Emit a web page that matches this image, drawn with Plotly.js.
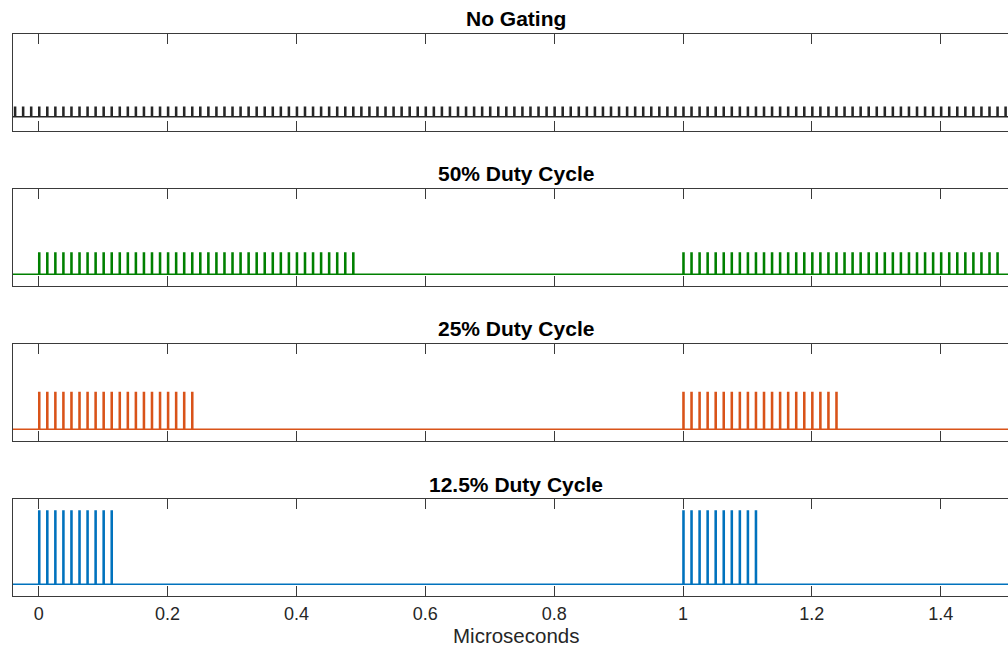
<!DOCTYPE html>
<html><head><meta charset="utf-8">
<script src="https://cdn.plot.ly/plotly-3.0.1.min.js"></script>
<style>html,body{margin:0;padding:0;overflow:hidden;background:#fff}#chart{width:1031px;height:646px}</style>
</head><body><div id="chart"></div>
<script>
// ---- data (times in nanoseconds, converted to microseconds for plotting) ----
const panelTitles = ["No Gating", "50% Duty Cycle", "25% Duty Cycle", "12.5% Duty Cycle"];
const panelColors = ["#262626", "#008000", "#D95319", "#0072BD"];
const pulseHeights = [0.13, 0.29, 0.5, 1.0];
const pulseWidthNs = 1.5;
const gateStartsNs = [0, 1000];
const pulsesPerBurst = [40, 20, 10];   // 50%, 25%, 12.5%
const burstOffsetsNs = [0,12.5,25,37.5,50,62.5,75,87.5,100,112.5,125,137.5,150,162.5,175,187.5,200,212.5,225,237.5,250,262.5,275,287.5,300,312.5,325,337.5,350,362.5,375,387.5,400,412.5,425,437.5,450,462.5,475,487.5];
const noGatingOnsetsNs = [-37.5,-25,-12.5,0,12.5,25,37.5,50,62.5,75,87.5,100,112.5,125,137.5,150,162.5,175,187.5,200,212.5,225,237.5,250,262.5,275,287.5,300,312.5,325,337.5,350,362.5,375,387.5,400,412.5,425,437.5,450,462.5,475,487.5,500,512.5,525,537.5,550,562.5,575,587.5,600,612.5,625,637.5,650,662.5,675,687.5,700,712.5,725,737.5,750,762.5,775,787.5,800,812.5,825,837.5,850,862.5,875,887.5,900,912.5,925,937.5,950,962.5,975,987.5,1000,1012.5,1025,1037.5,1050,1062.5,1075,1087.5,1100,1112.5,1125,1137.5,1150,1162.5,1175,1187.5,1200,1212.5,1225,1237.5,1250,1262.5,1275,1287.5,1300,1312.5,1325,1337.5,1350,1362.5,1375,1387.5,1400,1412.5,1425,1437.5,1450,1462.5,1475,1487.5,1500,1512.5];
const tickValues = [0, 0.2, 0.4, 0.6, 0.8, 1, 1.2, 1.4];
const tickLabels = ["0", "0.2", "0.4", "0.6", "0.8", "1", "1.2", "1.4"];
const xRange = [-0.04, 1.52];
const xAxisTitle = "Microseconds";

// ---- build pulse waveforms from the onset lists ----
function waveform(onsetsNs, h) {
  const x = [-0.06], y = [0];
  const w = pulseWidthNs / 1000;
  onsetsNs.forEach(tn => {
    const t = tn / 1000;
    x.push(t, t, t + w, t + w); y.push(0, h, h, 0);
  });
  x.push(1.6); y.push(0);
  return {x, y};
}
const onsetLists = [noGatingOnsetsNs];
pulsesPerBurst.forEach(n => {
  const list = [];
  gateStartsNs.forEach(g => burstOffsetsNs.slice(0, n).forEach(o => list.push(g + o)));
  onsetLists.push(list);
});

const domains = [[0.7972, 0.9469], [0.5573, 0.7070], [0.3173, 0.4670], [0.0774, 0.2271]];
const yRanges = [[-0.196, 1.129], [-0.16, 1.16], [-0.16, 1.16], [-0.16, 1.16]];
const titleY = [0.9720, 0.7321, 0.4921, 0.2506];

const axColor = "#3a3a3a";
const font = "Liberation Sans, Arial, Helvetica, sans-serif";
const traces = [];
const layout = {
  width: 1031, height: 646,
  margin: {l: 13, r: 13, t: 0, b: 0},
  paper_bgcolor: "#fff", plot_bgcolor: "#fff",
  showlegend: false,
  font: {family: font, color: "#262626"},
  annotations: []
};
for (let i = 0; i < 4; i++) {
  const wf = waveform(onsetLists[i], pulseHeights[i]);
  const sfx = i === 0 ? "" : String(i + 1);
  traces.push({
    type: "scatter", mode: "lines", x: wf.x, y: wf.y,
    xaxis: "x" + sfx, yaxis: "y" + sfx,
    line: {color: panelColors[i], width: 1.6, shape: "linear"},
    hoverinfo: "skip"
  });
  const last = i === 3;
  layout["xaxis" + sfx] = {
    domain: [0, 1], anchor: "y" + sfx, range: xRange,
    showgrid: false, zeroline: false, showline: true, mirror: "ticks",
    linecolor: axColor, linewidth: 1,
    ticks: "inside", ticklen: 10, tickwidth: 1, tickcolor: axColor,
    tickvals: tickValues, ticktext: tickLabels,
    showticklabels: last,
    tickfont: {family: font, size: 18, color: "#262626"},
    ticklabelstandoff: 1,
    automargin: false,
    title: {text: ""}
  };
  layout["yaxis" + sfx] = {
    domain: domains[i], anchor: "x" + sfx, range: yRanges[i],
    showgrid: false, zeroline: false, showline: true, mirror: true,
    linecolor: axColor, linewidth: 1,
    ticks: "", showticklabels: false, automargin: false
  };
  layout.annotations.push({
    text: "<b>" + panelTitles[i] + "</b>", xref: "paper", yref: "paper",
    x: 0.5, y: titleY[i], xanchor: "center", yanchor: "middle",
    showarrow: false, font: {family: font, size: 21, color: "#000"}
  });
}
// x-axis title of the bottom panel
layout.annotations.push({
  text: xAxisTitle, xref: "paper", yref: "paper",
  x: 0.5, y: 0.0155, xanchor: "center", yanchor: "middle",
  showarrow: false, font: {family: font, size: 20.5, color: "#262626"}
});
Plotly.newPlot("chart", traces, layout, {displayModeBar: false, staticPlot: true});
</script>
</body></html>
